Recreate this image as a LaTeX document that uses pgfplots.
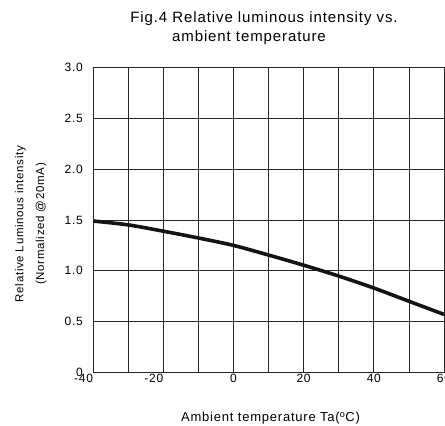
\documentclass[border=0pt]{standalone}
\usepackage{fontspec}
\setmainfont{Liberation Sans}[LetterSpace=6]
\usepackage{pgfplots}
\pgfplotsset{compat=1.18}

\begin{document}
\begin{tikzpicture}
\begin{axis}[
  at={(93pt,53.7pt)}, anchor=south west,
  scale only axis, width=351pt, height=304.6pt,
  xmin=-40, xmax=60, ymin=0, ymax=3,
  xtick={-40,-30,-20,-10,0,10,20,30,40,50,60},
  xticklabels={\llap{-40},,\llap{-20},,0,,20,,40,,60},
  ytick={0,0.5,1,1.5,2,2.5,3},
  yticklabels={0,0.5,1.0,1.5,2.0,2.5,3.0},
  grid=major,
  major grid style={black!85, line width=0.7pt},
  axis line style={black!85, line width=0.7pt},
  tick style={draw=none},
  xticklabel style={font=\fontsize{12}{14}\selectfont, inner sep=0pt},
  yticklabel style={font=\fontsize{12}{14}\selectfont, inner xsep=0pt},
  xticklabel shift=2pt,
  yticklabel shift=10pt,
]
\addplot[smooth, line width=3.6pt, color=black!92] coordinates {
  (-40,1.49) (-30,1.452) (-20,1.39) (-10,1.323) (0,1.25) (10,1.155)
  (20,1.055) (30,0.948) (40,0.83) (50,0.70) (60,0.57)
};
\end{axis}
\node[font=\fontsize{15}{18}\selectfont, anchor=base] at (264pt,403.7pt) {Fig.4 Relative luminous intensity vs.};
\node[font=\fontsize{15}{18}\selectfont, anchor=base] at (249pt,384.3pt) {ambient temperature};
\node[font=\fontsize{13}{15}\selectfont, anchor=base] at (270.5pt,4.3pt) {Ambient temperature Ta(\textsuperscript{o}C)};
\node[font=\fontsize{11.5}{14}\selectfont, rotate=90, anchor=base] at (23.3pt,202pt) {Relative Luminous intensity};
\node[font=\fontsize{11.5}{14}\selectfont, rotate=90, anchor=base] at (44pt,202pt) {(Normalized @20mA)};
\pgfresetboundingbox
\path[use as bounding box] (0,0) rectangle (445pt,426pt);
\end{tikzpicture}
\end{document}
